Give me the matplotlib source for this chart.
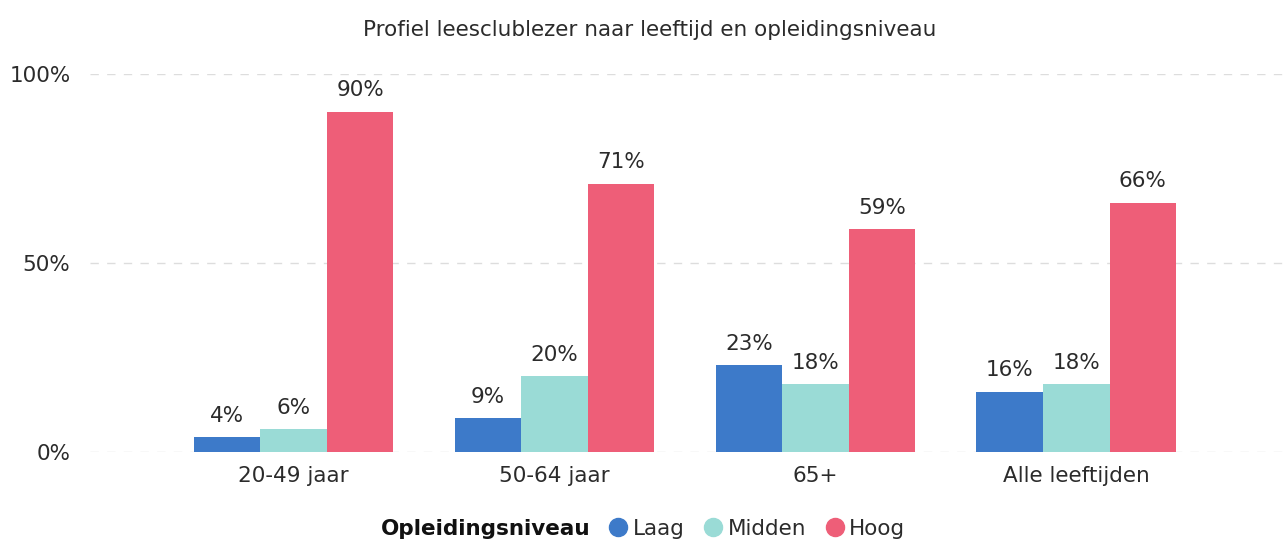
import matplotlib
matplotlib.use("Agg")
import matplotlib.pyplot as plt
from matplotlib.lines import Line2D
from matplotlib.offsetbox import HPacker
import numpy as np

categories = ["20-49 jaar", "50-64 jaar", "65+", "Alle leeftijden"]
series_names = ["Laag", "Midden", "Hoog"]
laag = [4, 9, 23, 16]
midden = [6, 20, 18, 18]
hoog = [90, 71, 59, 66]
yticks = [0, 50, 100]
ytick_labels = ["0%", "50%", "100%"]

colors = ["#3D7AC9", "#9ADBD6", "#EE5E78"]
text_color = "#2b2b2b"

plt.rcParams['font.family'] = ['DejaVu Sans']

fig = plt.figure(figsize=(12.85, 5.44), dpi=100)
ax = fig.add_axes([90/1285, (544-452)/544, (1285-90)/1285, (452-74)/544])

x = np.arange(len(categories))
w = 0.255
values = [laag, midden, hoog]
for i, (vals, col) in enumerate(zip(values, colors)):
    pos = x + (i - 1) * w
    ax.bar(pos, vals, width=w, color=col, zorder=3)
    for p, v in zip(pos, vals):
        ax.text(p, v + 3, f"{v}%", ha="center", va="bottom", fontsize=15.5, color=text_color)

ax.set_xlim(-0.78, 3.8)
ax.set_ylim(0, 100)
ax.set_yticks(yticks)
ax.set_yticklabels(ytick_labels, fontsize=15.5, color=text_color)
ax.set_xticks(x)
ax.set_xticklabels(categories, fontsize=15.5, color=text_color)
ax.tick_params(axis="both", length=0)
ax.tick_params(axis="y", pad=14)
ax.tick_params(axis="x", pad=10)
for s in ax.spines.values():
    s.set_visible(False)
ax.yaxis.grid(True, linestyle=(0, (6, 6)), color="#dddddd", linewidth=1, zorder=0)
ax.set_axisbelow(True)

fig.text(650/1285, 1 - 30/544, "Profiel leesclublezer naar leeftijd en opleidingsniveau",
         ha="center", va="center", fontsize=15.5, color=text_color)

handles = [Line2D([0], [0], marker="o", linestyle="", markersize=13, markerfacecolor=c,
                  markeredgecolor=c) for c in colors]
leg = fig.legend(handles, series_names, title="Opleidingsniveau", loc="center",
                 bbox_to_anchor=(643/1285, 1 - 529/544), ncol=3, frameon=False,
                 fontsize=15.5, handletextpad=0.0, columnspacing=0.7, handlelength=1.3,
                 title_fontproperties={"weight": "bold", "size": 15.5})
title_box = leg._legend_title_box
handle_box = leg._legend_handle_box
leg._legend_box._children = [HPacker(pad=0, sep=10, children=[title_box, handle_box], align="center")]
for t in leg.get_texts():
    t.set_color(text_color)
leg.get_title().set_color("#111111")

fig.savefig("out.png", dpi=100)
